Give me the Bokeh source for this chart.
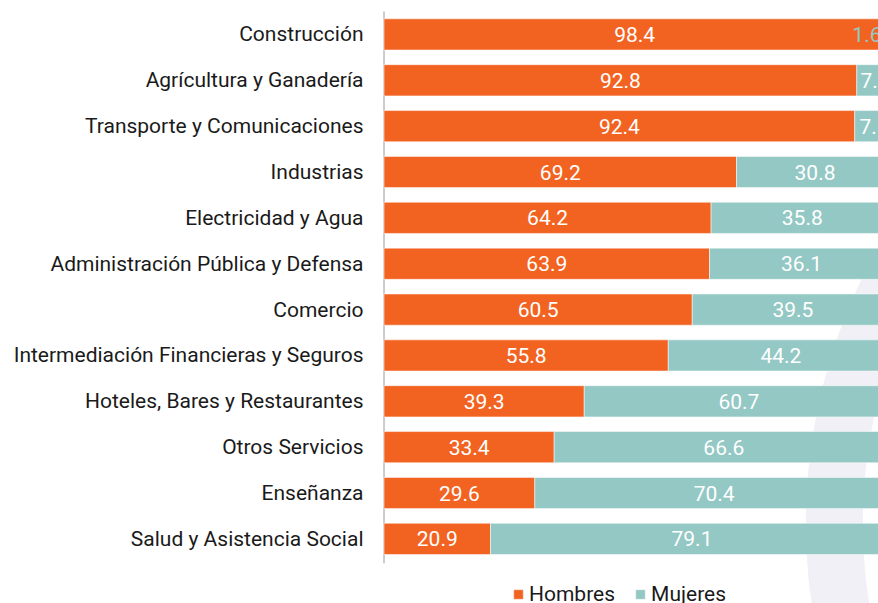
from bokeh.plotting import figure
from bokeh.models import ColumnDataSource, Range1d, FixedTicker, Legend, LegendItem
from bokeh.core.properties import value
from bokeh.embed import file_html
from bokeh.resources import INLINE

categories = [
    "Construcción",
    "Agrícultura y Ganadería",
    "Transporte y Comunicaciones",
    "Industrias",
    "Electricidad y Agua",
    "Administración Pública y Defensa",
    "Comercio",
    "Intermediación Financieras y Seguros",
    "Hoteles, Bares y Restaurantes",
    "Otros Servicios",
    "Enseñanza",
    "Salud y Asistencia Social",
]
hombres = [98.4, 92.8, 92.4, 69.2, 64.2, 63.9, 60.5, 55.8, 39.3, 33.4, 29.6, 20.9]
mujeres = [1.6, 7.2, 7.6, 30.8, 35.8, 36.1, 39.5, 44.2, 60.7, 66.6, 70.4, 79.1]
series_names = ["Hombres", "Mujeres"]

ORANGE = "#f26322"
TEAL = "#93c8c4"
FONT = "Roboto"
FS = "21px"

n = len(categories)
ypos = [n - 1 - i for i in range(n)]

p = figure(width=878, height=603, output_backend="svg", toolbar_location=None,
           x_range=Range1d(-0.3, 97.06), y_range=Range1d(-1.409, 11.5),
           min_border_left=382, min_border_right=0, min_border_top=11, min_border_bottom=0)
p.outline_line_color = None
p.grid.visible = False
p.xaxis.visible = False
p.background_fill_color = "white"

# decorative background ring
p.annulus(x=[193.5], y=[0.34], inner_radius=507, outer_radius=564,
          inner_radius_units="screen", outer_radius_units="screen",
          fill_color="#f0f0f6", line_color=None)

# axis line
p.line(x=[0, 0], y=[-0.53, 11.52], line_color="#cccccc", line_width=2)

src = ColumnDataSource(dict(
    y=ypos,
    h_left=[0] * n,
    h_right=hombres,
    m_left=hombres,
    m_right=[a + b for a, b in zip(hombres, mujeres)],
))

rh = p.hbar(y="y", left="h_left", right="h_right", height=0.68, source=src,
            fill_color=ORANGE, line_color="white", line_alpha=0.5, line_width=1)
rm = p.hbar(y="y", left="m_left", right="m_right", height=0.68, source=src,
            fill_color=TEAL, line_color="white", line_alpha=0.5, line_width=1)

# value labels
hl = ColumnDataSource(dict(x=[v / 2 for v in hombres], y=ypos, t=[f"{v:.1f}" for v in hombres]))
p.text(x="x", y="y", text="t", source=hl, text_color="white", text_align="center",
       text_baseline="middle", text_font=value(FONT), text_font_size=FS)

big_x, big_y, big_t, small_x, small_y, small_t = [], [], [], [], [], []
for a, b, yy in zip(hombres, mujeres, ypos):
    if b < 5:
        small_x.append(a + b); small_y.append(yy); small_t.append(f"{b:.1f}")
    else:
        big_x.append(a + b / 2); big_y.append(yy); big_t.append(f"{b:.1f}")
p.text(x="x", y="y", text="t", source=ColumnDataSource(dict(x=big_x, y=big_y, t=big_t)),
       text_color="white", text_align="center", text_baseline="middle",
       text_font=value(FONT), text_font_size=FS)
p.text(x="x", y="y", text="t", source=ColumnDataSource(dict(x=small_x, y=small_y, t=small_t)),
       text_color=TEAL, text_align="right", text_baseline="middle", x_offset=-12,
       text_font=value(FONT), text_font_size=FS)

# y axis labels
p.yaxis.ticker = FixedTicker(ticks=ypos)
p.yaxis.major_label_overrides = {yy: c for yy, c in zip(ypos, categories)}
p.yaxis.axis_line_color = None
p.yaxis.major_tick_line_color = None
p.yaxis.minor_tick_line_color = None
p.yaxis.major_tick_out = 0
p.yaxis.major_tick_in = 0
p.yaxis.major_label_standoff = 19
p.yaxis.major_label_text_font = FONT
p.yaxis.major_label_text_font_size = FS
p.yaxis.major_label_text_color = "#1a1a1a"

legend = Legend(items=[LegendItem(label=series_names[0], renderers=[rh]),
                       LegendItem(label=series_names[1], renderers=[rm])],
                orientation="horizontal", location=(130, -3),
                glyph_width=12, glyph_height=12, label_standoff=5, spacing=19,
                padding=0, margin=0, border_line_color=None, background_fill_alpha=0,
                label_text_font=FONT, label_text_font_size=FS, label_text_color="#1a1a1a")
p.add_layout(legend, "center")

open("out.html", "w").write(file_html(p, INLINE))
